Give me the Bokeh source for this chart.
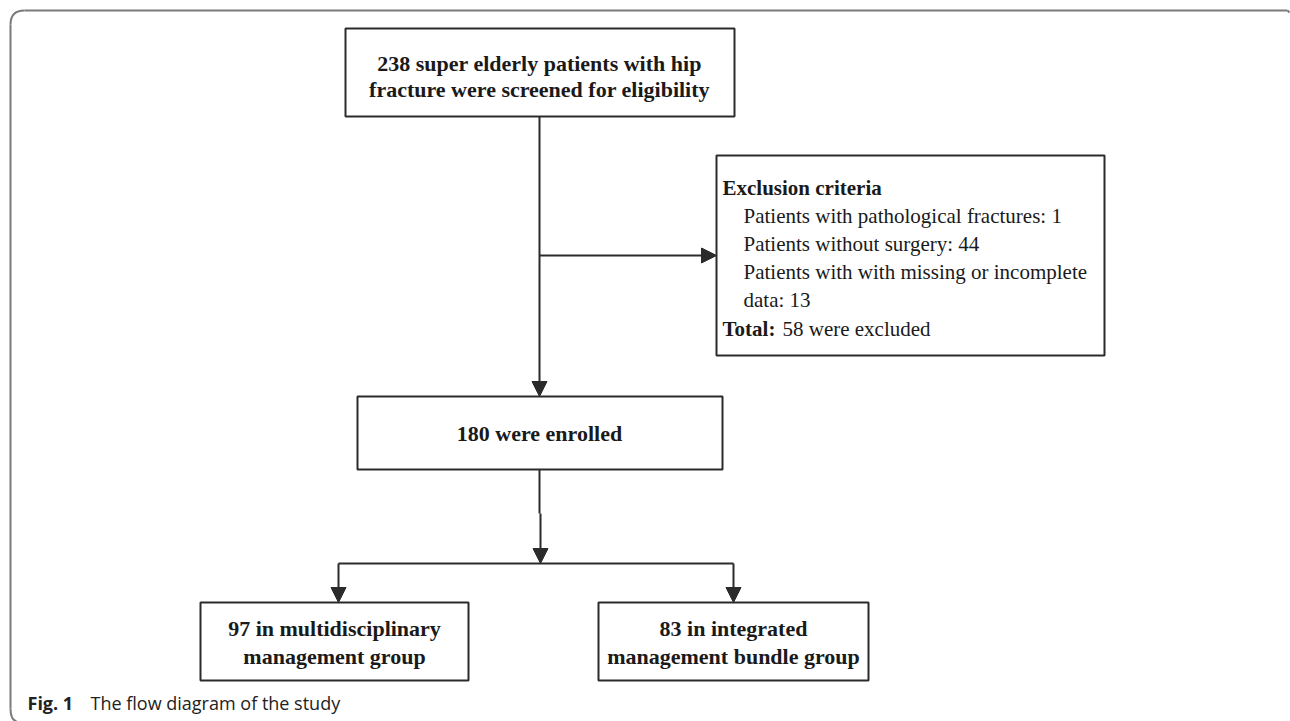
from bokeh.plotting import figure
from bokeh.models import Range1d, Arrow, NormalHead, ColumnDataSource
from bokeh.embed import file_html
from bokeh.resources import INLINE
from bokeh.core.properties import value

# ---- content ----
top_lines = ["238 super elderly patients with hip", "fracture were screened for eligibility"]
excl_title = "Exclusion criteria"
excl_items = ["Patients with pathological fractures: 1",
              "Patients without surgery: 44",
              "Patients with with missing or incomplete",
              "data: 13"]
excl_total_label = "Total:"
excl_total_text = "58 were excluded"
enrolled_text = "180 were enrolled"
group_lines = [["97 in multidisciplinary", "management group"],
               ["83 in integrated", "management bundle group"]]
caption_bold = "Fig. 1"
caption_text = "The flow diagram of the study"

# ---- layout (screen pixel coordinates) ----
W, H = 1290, 721
INK = "#2b2b2b"
SERIF = value("Liberation Serif")
SANS = value("Open Sans")

p = figure(width=W, height=H, x_range=Range1d(0, W), y_range=Range1d(H, 0),
           output_backend="svg", toolbar_location=None, min_border=0)
p.axis.visible = False
p.grid.visible = False
p.outline_line_color = None
p.background_fill_color = "white"
p.border_fill_color = "white"

# outer frame (top + left with rounded corners)
FR = "#7a7a7a"
p.line([24, 1287], [10, 10], line_color=FR, line_width=2)
p.line([1287, 1289], [10, 12], line_color=FR, line_width=2)
p.line([10, 10], [24, 708], line_color=FR, line_width=2)
p.quadratic(x0=[10], y0=[24], x1=[24], y1=[10], cx=[10], cy=[10], line_color=FR, line_width=2)
p.quadratic(x0=[10], y0=[708], x1=[16], y1=[721], cx=[10], cy=[719], line_color=FR, line_width=2)

# boxes
boxes = dict(
    left=[345, 716, 357, 200, 598],
    right=[734, 1104, 722, 468, 868],
    top=[28, 155, 396, 602, 602],
    bottom=[116, 355, 469, 680, 680],
)
p.quad(source=ColumnDataSource(boxes), left="left", right="right", top="top", bottom="bottom",
       fill_color="white", line_color=INK, line_width=2)

# connectors
def seg(xs, ys):
    p.line(xs, ys, line_color=INK, line_width=2)

def arrow(x0, y0, x1, y1):
    p.add_layout(Arrow(x_start=x0, y_start=y0, x_end=x1, y_end=y1, line_color=INK, line_width=2,
                       end=NormalHead(size=15, fill_color=INK, line_color=INK, line_width=1)))

arrow(539, 116, 539, 396)
arrow(539, 255, 716, 255)
seg([539, 539], [469, 513])
arrow(540, 513, 540, 563)
seg([338, 733], [563, 563])
arrow(338, 563, 338, 602)
arrow(733, 563, 733, 602)

# texts
def txt(x, y, s, size="22px", style="bold", align="center", font=SERIF, color="#1a1a1a"):
    p.text(x=[x], y=[y], text=[s], text_font=font, text_font_size=size, text_font_style=style,
           text_align=align, text_baseline="middle", text_color=color)

txt(539, 63, top_lines[0])
txt(539, 89, top_lines[1])

txt(722, 187, excl_title, size="21px", align="left")
for i, s in enumerate(excl_items):
    txt(743, 215 + 28 * i, s, size="21px", style="normal", align="left")
txt(722, 328, excl_total_label, size="21px", align="left")
txt(782, 328, excl_total_text, size="21px", style="normal", align="left")

txt(539, 433, enrolled_text)

centers = [334, 733]
for cx, lines in zip(centers, group_lines):
    txt(cx, 628, lines[0])
    txt(cx, 656, lines[1])

txt(27, 702, caption_bold, size="18px", align="left", font=SANS, color="#222222")
txt(90, 702, caption_text, size="18px", style="normal", align="left", font=SANS, color="#222222")

open("out.html", "w").write(file_html(p, INLINE))
